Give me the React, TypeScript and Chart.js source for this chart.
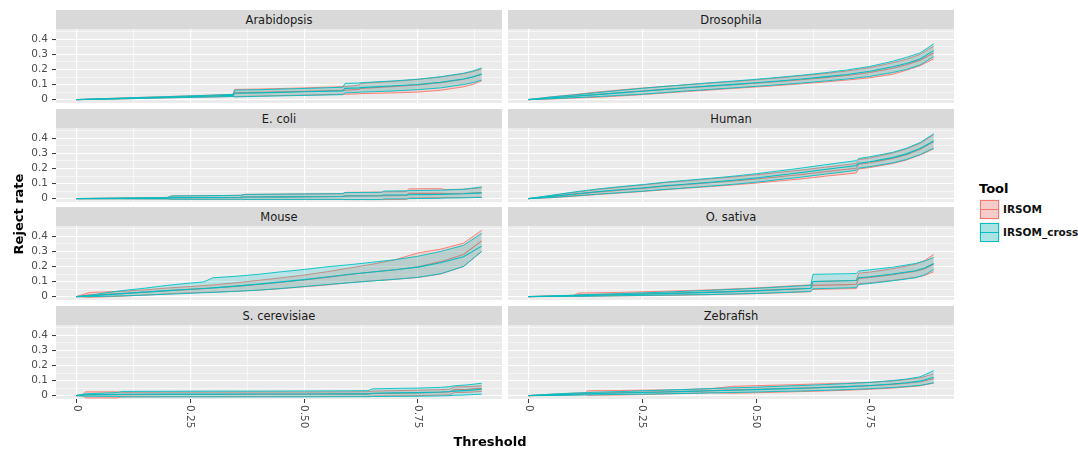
import React, { useEffect, useRef } from "react";
import { Chart, registerables } from "chart.js";

Chart.register(...registerables);

const FONT = '"DejaVu Sans", sans-serif';
const RED = "#F8766D";
const CYAN = "#00BFC4";
const RED_FILL = "rgba(248,118,109,0.22)";
const CYAN_FILL = "rgba(0,191,196,0.22)";

const TOOLS = ["IRSOM", "IRSOM_cross"];
const X_TICKS = [0, 0.25, 0.5, 0.75];
const X_TICK_LABELS = ["0", "0.25", "0.50", "0.75"];
const X_MINOR = [0.125, 0.375, 0.625, 0.875];
const Y_TICKS = [0, 0.1, 0.2, 0.3, 0.4];
const Y_TICK_LABELS = ["0", "0.1", "0.2", "0.3", "0.4"];
const Y_MINOR = [0.05, 0.15, 0.25, 0.35, 0.45];
const X_RANGE = [-0.0445, 0.9345];
const Y_RANGE = [-0.0223, 0.4685];

// ---------- Arabidopsis ----------
const arabX = [0, 0.1, 0.2, 0.3, 0.344, 0.348, 0.4, 0.5, 0.585, 0.59, 0.62, 0.625, 0.7, 0.75, 0.8, 0.85, 0.87, 0.89];
const arabRedMid = [0, 0.008, 0.016, 0.024, 0.028, 0.045, 0.048, 0.055, 0.062, 0.062, 0.068, 0.075, 0.088, 0.098, 0.113, 0.135, 0.15, 0.168];
const arabRedLo = [0, 0.005, 0.012, 0.018, 0.021, 0.02, 0.024, 0.03, 0.036, 0.036, 0.038, 0.04, 0.045, 0.05, 0.062, 0.085, 0.1, 0.125];
const arabRedHi = [0, 0.011, 0.02, 0.03, 0.035, 0.068, 0.07, 0.078, 0.086, 0.086, 0.095, 0.108, 0.122, 0.135, 0.15, 0.172, 0.185, 0.205];
const arabCyanMid = [0, 0.008, 0.016, 0.024, 0.028, 0.042, 0.045, 0.052, 0.058, 0.075, 0.078, 0.08, 0.092, 0.1, 0.115, 0.137, 0.15, 0.17];
const arabCyanLo = [0, 0.005, 0.012, 0.018, 0.021, 0.018, 0.022, 0.028, 0.033, 0.045, 0.048, 0.05, 0.058, 0.066, 0.078, 0.1, 0.112, 0.13];
const arabCyanHi = [0, 0.011, 0.02, 0.03, 0.035, 0.063, 0.066, 0.074, 0.082, 0.108, 0.11, 0.112, 0.125, 0.135, 0.152, 0.175, 0.19, 0.21];

// ---------- Drosophila ----------
const drosX = [0, 0.05, 0.1, 0.15, 0.2, 0.25, 0.3, 0.35, 0.4, 0.45, 0.5, 0.55, 0.6, 0.65, 0.7, 0.75, 0.8, 0.83, 0.86, 0.89];
const drosRedMid = [0, 0.011, 0.022, 0.034, 0.046, 0.057, 0.068, 0.079, 0.089, 0.099, 0.109, 0.12, 0.132, 0.146, 0.16, 0.18, 0.208, 0.232, 0.262, 0.31];
const drosRedLo = [0, 0.004, 0.01, 0.016, 0.024, 0.033, 0.044, 0.054, 0.064, 0.074, 0.084, 0.094, 0.105, 0.117, 0.13, 0.145, 0.168, 0.195, 0.225, 0.27];
const drosRedHi = [0, 0.018, 0.033, 0.05, 0.064, 0.077, 0.088, 0.099, 0.11, 0.12, 0.131, 0.144, 0.158, 0.173, 0.19, 0.212, 0.245, 0.268, 0.3, 0.355];
const drosCyanMid = [0, 0.012, 0.022, 0.033, 0.045, 0.056, 0.068, 0.08, 0.091, 0.101, 0.112, 0.124, 0.137, 0.151, 0.167, 0.188, 0.218, 0.24, 0.27, 0.325];
const drosCyanLo = [0, 0.006, 0.013, 0.02, 0.028, 0.036, 0.047, 0.058, 0.068, 0.078, 0.088, 0.099, 0.11, 0.123, 0.137, 0.154, 0.18, 0.2, 0.23, 0.285];
const drosCyanHi = [0, 0.018, 0.031, 0.046, 0.061, 0.075, 0.088, 0.1, 0.112, 0.123, 0.135, 0.148, 0.162, 0.178, 0.197, 0.22, 0.255, 0.28, 0.31, 0.37];

// ---------- E. coli ----------
const ecoliX = [0, 0.1, 0.2, 0.21, 0.3, 0.36, 0.37, 0.45, 0.585, 0.59, 0.67, 0.675, 0.725, 0.73, 0.8, 0.81, 0.85, 0.89];
const ecoliRedMid = [0, 0.002, 0.003, 0.007, 0.008, 0.009, 0.011, 0.012, 0.014, 0.018, 0.019, 0.02, 0.021, 0.035, 0.036, 0.033, 0.034, 0.04];
const ecoliRedLo = [0, -0.001, -0.002, -0.004, -0.004, -0.004, -0.005, -0.005, -0.005, -0.006, -0.006, -0.006, -0.005, 0.005, 0.006, 0.006, 0.007, 0.01];
const ecoliRedHi = [0, 0.004, 0.008, 0.018, 0.02, 0.022, 0.028, 0.03, 0.033, 0.042, 0.044, 0.045, 0.047, 0.065, 0.066, 0.06, 0.062, 0.072];
const ecoliCyanMid = [0, 0.002, 0.003, 0.007, 0.008, 0.009, 0.011, 0.012, 0.014, 0.017, 0.019, 0.024, 0.025, 0.026, 0.028, 0.03, 0.032, 0.038];
const ecoliCyanLo = [0, -0.001, -0.002, -0.004, -0.004, -0.004, -0.005, -0.005, -0.005, -0.006, -0.006, -0.002, -0.001, 0, 0.002, 0.004, 0.005, 0.008];
const ecoliCyanHi = [0, 0.004, 0.008, 0.018, 0.02, 0.022, 0.028, 0.03, 0.033, 0.04, 0.042, 0.05, 0.052, 0.053, 0.056, 0.058, 0.062, 0.078];

// ---------- Human ----------
const humanX = [0, 0.05, 0.1, 0.15, 0.2, 0.25, 0.3, 0.35, 0.4, 0.45, 0.5, 0.55, 0.6, 0.65, 0.7, 0.72, 0.725, 0.75, 0.8, 0.83, 0.86, 0.89];
const humanRedMid = [0, 0.013, 0.028, 0.043, 0.056, 0.068, 0.082, 0.094, 0.105, 0.117, 0.13, 0.145, 0.16, 0.178, 0.195, 0.202, 0.228, 0.238, 0.267, 0.292, 0.327, 0.378];
const humanRedLo = [0, 0.006, 0.016, 0.027, 0.037, 0.047, 0.059, 0.07, 0.08, 0.091, 0.103, 0.117, 0.131, 0.148, 0.164, 0.17, 0.197, 0.206, 0.233, 0.256, 0.289, 0.33];
const humanRedHi = [0, 0.02, 0.041, 0.06, 0.076, 0.09, 0.106, 0.119, 0.131, 0.144, 0.158, 0.174, 0.19, 0.208, 0.226, 0.234, 0.258, 0.27, 0.302, 0.33, 0.366, 0.425];
const humanCyanMid = [0, 0.015, 0.031, 0.046, 0.059, 0.071, 0.085, 0.097, 0.109, 0.122, 0.137, 0.155, 0.173, 0.193, 0.212, 0.22, 0.234, 0.245, 0.272, 0.297, 0.332, 0.382];
const humanCyanLo = [0, 0.007, 0.018, 0.029, 0.039, 0.049, 0.061, 0.072, 0.083, 0.095, 0.109, 0.126, 0.143, 0.162, 0.18, 0.188, 0.202, 0.212, 0.237, 0.26, 0.292, 0.335];
const humanCyanHi = [0, 0.022, 0.044, 0.063, 0.079, 0.093, 0.109, 0.122, 0.135, 0.149, 0.165, 0.184, 0.203, 0.224, 0.244, 0.252, 0.266, 0.278, 0.307, 0.334, 0.372, 0.43];

// ---------- Mouse ----------
const mouseX = [0, 0.03, 0.1, 0.15, 0.2, 0.25, 0.28, 0.3, 0.35, 0.4, 0.45, 0.5, 0.55, 0.6, 0.65, 0.7, 0.75, 0.8, 0.85, 0.89];
const mouseRedMid = [0, 0.012, 0.02, 0.03, 0.04, 0.048, 0.053, 0.057, 0.068, 0.08, 0.095, 0.11, 0.128, 0.147, 0.163, 0.178, 0.198, 0.232, 0.28, 0.37];
const mouseRedLo = [0, -0.004, 0.003, 0.01, 0.018, 0.025, 0.028, 0.03, 0.036, 0.043, 0.053, 0.065, 0.077, 0.093, 0.105, 0.115, 0.127, 0.15, 0.2, 0.3];
const mouseRedHi = [0, 0.028, 0.035, 0.045, 0.057, 0.067, 0.073, 0.078, 0.092, 0.108, 0.125, 0.143, 0.165, 0.19, 0.215, 0.245, 0.29, 0.315, 0.355, 0.44];
const mouseCyanMid = [0, 0.005, 0.02, 0.03, 0.04, 0.049, 0.054, 0.058, 0.07, 0.083, 0.098, 0.113, 0.13, 0.148, 0.163, 0.178, 0.196, 0.225, 0.265, 0.335];
const mouseCyanLo = [0, 0, 0.005, 0.01, 0.016, 0.022, 0.026, 0.028, 0.035, 0.043, 0.054, 0.067, 0.08, 0.092, 0.104, 0.115, 0.128, 0.152, 0.2, 0.3];
const mouseCyanHi = [0, 0.01, 0.04, 0.056, 0.075, 0.09, 0.098, 0.125, 0.135, 0.148, 0.165, 0.18, 0.198, 0.212, 0.228, 0.245, 0.268, 0.3, 0.34, 0.42];

// ---------- O. sativa ----------
const sativaX = [0, 0.1, 0.11, 0.2, 0.3, 0.4, 0.5, 0.6, 0.62, 0.625, 0.7, 0.72, 0.725, 0.75, 0.8, 0.85, 0.87, 0.89];
const sativaRedMid = [0, 0.006, 0.012, 0.016, 0.022, 0.03, 0.04, 0.053, 0.056, 0.075, 0.08, 0.082, 0.12, 0.128, 0.145, 0.168, 0.185, 0.215];
const sativaRedLo = [0, 0.004, 0.002, 0.005, 0.008, 0.013, 0.02, 0.03, 0.033, 0.048, 0.052, 0.053, 0.085, 0.092, 0.108, 0.128, 0.14, 0.165];
const sativaRedHi = [0, 0.008, 0.024, 0.028, 0.036, 0.045, 0.058, 0.075, 0.078, 0.1, 0.106, 0.108, 0.155, 0.163, 0.185, 0.215, 0.24, 0.28];
const sativaCyanMid = [0, 0.006, 0.007, 0.013, 0.02, 0.028, 0.038, 0.052, 0.055, 0.1, 0.105, 0.107, 0.125, 0.132, 0.15, 0.172, 0.19, 0.22];
const sativaCyanLo = [0, 0.002, 0.002, 0.006, 0.01, 0.014, 0.021, 0.032, 0.035, 0.052, 0.058, 0.06, 0.08, 0.087, 0.105, 0.125, 0.145, 0.18];
const sativaCyanHi = [0, 0.01, 0.012, 0.02, 0.03, 0.042, 0.055, 0.072, 0.075, 0.148, 0.152, 0.153, 0.17, 0.178, 0.195, 0.22, 0.235, 0.26];

// ---------- S. cerevisiae ----------
const cereX = [0, 0.015, 0.02, 0.09, 0.1, 0.2, 0.3, 0.4, 0.5, 0.6, 0.64, 0.65, 0.7, 0.75, 0.8, 0.82, 0.83, 0.86, 0.89];
const cereRedMid = [0, 0.004, 0.006, 0.006, 0.007, 0.008, 0.008, 0.009, 0.009, 0.01, 0.01, 0.014, 0.016, 0.018, 0.022, 0.024, 0.04, 0.042, 0.048];
const cereRedLo = [0, -0.003, -0.015, -0.015, -0.008, -0.007, -0.007, -0.006, -0.006, -0.005, -0.005, -0.002, -0.001, 0, 0.004, 0.005, 0.02, 0.022, 0.028];
const cereRedHi = [0, 0.008, 0.025, 0.025, 0.022, 0.023, 0.023, 0.024, 0.024, 0.025, 0.026, 0.03, 0.033, 0.036, 0.04, 0.043, 0.058, 0.06, 0.065];
const cereCyanMid = [0, 0.004, 0.005, 0.008, 0.009, 0.01, 0.01, 0.011, 0.011, 0.012, 0.012, 0.016, 0.018, 0.02, 0.024, 0.027, 0.03, 0.035, 0.042];
const cereCyanLo = [0, -0.003, -0.004, -0.005, -0.008, -0.008, -0.008, -0.008, -0.008, -0.007, -0.007, -0.006, -0.005, -0.004, -0.002, 0, 0.002, 0.005, 0.01];
const cereCyanHi = [0, 0.01, 0.012, 0.02, 0.028, 0.029, 0.03, 0.03, 0.031, 0.032, 0.033, 0.045, 0.048, 0.05, 0.055, 0.06, 0.065, 0.072, 0.082];

// ---------- Zebrafish ----------
const zebraX = [0, 0.05, 0.1, 0.125, 0.13, 0.2, 0.25, 0.3, 0.35, 0.4, 0.45, 0.5, 0.55, 0.6, 0.65, 0.7, 0.75, 0.8, 0.83, 0.86, 0.89];
const zebraRedMid = [0, 0.005, 0.01, 0.012, 0.016, 0.019, 0.022, 0.025, 0.028, 0.032, 0.038, 0.042, 0.046, 0.05, 0.055, 0.06, 0.066, 0.075, 0.082, 0.092, 0.112];
const zebraRedLo = [0, 0.001, 0.004, 0.006, 0.002, 0.004, 0.007, 0.011, 0.015, 0.019, 0.016, 0.019, 0.023, 0.027, 0.031, 0.036, 0.042, 0.05, 0.057, 0.065, 0.083];
const zebraRedHi = [0, 0.009, 0.016, 0.018, 0.032, 0.034, 0.036, 0.038, 0.041, 0.046, 0.062, 0.066, 0.07, 0.074, 0.079, 0.083, 0.088, 0.098, 0.106, 0.118, 0.145];
const zebraCyanMid = [0, 0.005, 0.01, 0.012, 0.013, 0.017, 0.021, 0.024, 0.028, 0.032, 0.036, 0.04, 0.045, 0.049, 0.054, 0.06, 0.067, 0.077, 0.085, 0.096, 0.122];
const zebraCyanLo = [0, 0.001, 0.003, 0.005, 0.005, 0.008, 0.01, 0.012, 0.015, 0.018, 0.021, 0.024, 0.028, 0.031, 0.035, 0.04, 0.046, 0.054, 0.06, 0.068, 0.085];
const zebraCyanHi = [0, 0.01, 0.017, 0.02, 0.021, 0.027, 0.032, 0.037, 0.042, 0.047, 0.052, 0.056, 0.062, 0.067, 0.073, 0.08, 0.088, 0.1, 0.11, 0.125, 0.165];

const PANELS = [
  { name: "Arabidopsis", x: arabX, red: [arabRedLo, arabRedMid, arabRedHi], cyan: [arabCyanLo, arabCyanMid, arabCyanHi] },
  { name: "Drosophila", x: drosX, red: [drosRedLo, drosRedMid, drosRedHi], cyan: [drosCyanLo, drosCyanMid, drosCyanHi] },
  { name: "E. coli", x: ecoliX, red: [ecoliRedLo, ecoliRedMid, ecoliRedHi], cyan: [ecoliCyanLo, ecoliCyanMid, ecoliCyanHi] },
  { name: "Human", x: humanX, red: [humanRedLo, humanRedMid, humanRedHi], cyan: [humanCyanLo, humanCyanMid, humanCyanHi] },
  { name: "Mouse", x: mouseX, red: [mouseRedLo, mouseRedMid, mouseRedHi], cyan: [mouseCyanLo, mouseCyanMid, mouseCyanHi] },
  { name: "O. sativa", x: sativaX, red: [sativaRedLo, sativaRedMid, sativaRedHi], cyan: [sativaCyanLo, sativaCyanMid, sativaCyanHi] },
  { name: "S. cerevisiae", x: cereX, red: [cereRedLo, cereRedMid, cereRedHi], cyan: [cereCyanLo, cereCyanMid, cereCyanHi] },
  { name: "Zebrafish", x: zebraX, red: [zebraRedLo, zebraRedMid, zebraRedHi], cyan: [zebraCyanLo, zebraCyanMid, zebraCyanHi] },
];

// layout
const ROW_TOP = [29, 128, 226, 325];
const STRIP_H = 19;
const PLOT_H = 74;
const Y_AXIS_W = 56;
const PLOT_W = 446;
const COL_PLOT_LEFT = [56, 508];
const X_AXIS_H = 40;

const near = (v: number, arr: number[]) => arr.some((a) => Math.abs(a - v) < 1e-6);

function pts(xs: number[], ys: number[]) {
  return xs.map((x, i) => ({ x, y: ys[i] }));
}

function Panel({ panel, col, row }: { panel: any; col: number; row: number }) {
  const ref = useRef<HTMLCanvasElement | null>(null);
  const isLeft = col === 0;
  const isBottom = row === 3;
  const w = (isLeft ? Y_AXIS_W : 0) + PLOT_W;
  const h = PLOT_H + (isBottom ? X_AXIS_H : 0);
  const left = isLeft ? 0 : COL_PLOT_LEFT[1];
  const top = ROW_TOP[row];

  useEffect(() => {
    if (!ref.current) return;
    const datasets: any[] = [];
    const groups = [
      { arr: panel.cyan, color: CYAN, fill: CYAN_FILL, label: TOOLS[1] },
      { arr: panel.red, color: RED, fill: RED_FILL, label: TOOLS[0] },
    ];
    groups.forEach((g) => {
      datasets.push({ label: g.label + " lo", data: pts(panel.x, g.arr[0]), borderColor: g.color, borderWidth: 0.9, pointRadius: 0, fill: false, tension: 0 });
      datasets.push({ label: g.label + " hi", data: pts(panel.x, g.arr[2]), borderColor: g.color, borderWidth: 0.9, pointRadius: 0, fill: "-1", backgroundColor: g.fill, tension: 0 });
      datasets.push({ label: g.label, data: pts(panel.x, g.arr[1]), borderColor: g.color, borderWidth: 1.1, pointRadius: 0, fill: false, tension: 0 });
    });

    const bgPlugin = {
      id: "panelBg",
      beforeDraw(chart: any) {
        const { ctx, chartArea } = chart;
        ctx.save();
        ctx.fillStyle = "#EBEBEB";
        ctx.fillRect(chartArea.left, chartArea.top, chartArea.right - chartArea.left, chartArea.bottom - chartArea.top);
        ctx.restore();
      },
    };
    const xLabelPlugin = {
      id: "xLabels",
      afterDraw(chart: any) {
        if (!isBottom) return;
        const { ctx, chartArea } = chart;
        const sx = chart.scales.x;
        ctx.save();
        ctx.fillStyle = "#4D4D4D";
        ctx.font = `10.5px ${FONT}`;
        ctx.textAlign = "left";
        ctx.textBaseline = "middle";
        sx.ticks.forEach((t: any) => {
          const idx = X_TICKS.findIndex((v) => Math.abs(v - t.value) < 1e-6);
          if (idx < 0) return;
          const px = sx.getPixelForValue(t.value);
          ctx.save();
          ctx.translate(px, chartArea.bottom + 6);
          ctx.rotate(Math.PI / 2);
          ctx.fillText(X_TICK_LABELS[idx], 0, 0);
          ctx.restore();
        });
        ctx.restore();
      },
    };

    const chart = new Chart(ref.current, {
      type: "line",
      data: { datasets },
      options: {
        animation: false,
        responsive: false,
        maintainAspectRatio: false,
        events: [],
        layout: { padding: 0 },
        plugins: { legend: { display: false }, tooltip: { enabled: false }, title: { display: false } },
        scales: {
          x: {
            type: "linear",
            min: X_RANGE[0],
            max: X_RANGE[1],
            afterBuildTicks: (s: any) => {
              s.ticks = [...X_TICKS, ...X_MINOR].sort((a, b) => a - b).map((v) => ({ value: v }));
            },
            afterFit: (s: any) => {
              s.height = isBottom ? X_AXIS_H : 0;
              s.paddingLeft = 0;
              s.paddingRight = 0;
              s.paddingTop = 0;
              s.paddingBottom = 0;
            },
            border: { display: false },
            ticks: { display: false },
            grid: {
              color: "#FFFFFF",
              lineWidth: (c: any) => (c.tick && near(c.tick.value, X_TICKS) ? 1.1 : 0.55),
              drawTicks: isBottom,
              tickLength: 4,
              tickWidth: 1,
              tickColor: (c: any) => (c.tick && near(c.tick.value, X_TICKS) ? "#333333" : "rgba(0,0,0,0)"),
            },
          },
          y: {
            type: "linear",
            min: Y_RANGE[0],
            max: Y_RANGE[1],
            afterBuildTicks: (s: any) => {
              s.ticks = [...Y_TICKS, ...Y_MINOR].sort((a, b) => a - b).map((v) => ({ value: v }));
            },
            afterFit: (s: any) => {
              s.width = isLeft ? Y_AXIS_W : 0;
              s.paddingTop = 0;
              s.paddingBottom = 0;
              s.paddingLeft = 0;
              s.paddingRight = 0;
            },
            border: { display: false },
            ticks: {
              display: isLeft,
              autoSkip: false,
              padding: 4,
              color: "#4D4D4D",
              font: { family: FONT, size: 10.5 },
              callback: (v: any) => {
                const i = Y_TICKS.findIndex((t) => Math.abs(t - v) < 1e-6);
                return i >= 0 ? Y_TICK_LABELS[i] : "";
              },
            },
            grid: {
              color: "#FFFFFF",
              lineWidth: (c: any) => (c.tick && near(c.tick.value, Y_TICKS) ? 1.1 : 0.55),
              drawTicks: isLeft,
              tickLength: 4,
              tickWidth: 1,
              tickColor: (c: any) => (c.tick && near(c.tick.value, Y_TICKS) ? "#333333" : "rgba(0,0,0,0)"),
            },
          },
        },
      } as any,
      plugins: [bgPlugin, xLabelPlugin],
    });
    return () => chart.destroy();
  }, [panel, col, row]);

  return (
    <canvas
      ref={ref}
      width={w}
      height={h}
      style={{ position: "absolute", left, top, width: w, height: h }}
    />
  );
}

function Text({ cx, cy, children, style }: any) {
  return (
    <div
      style={{
        position: "absolute",
        left: cx - 200,
        top: cy - 20,
        width: 400,
        height: 40,
        display: "flex",
        alignItems: "center",
        justifyContent: "center",
        whiteSpace: "nowrap",
        fontFamily: FONT,
        ...style,
      }}
    >
      {children}
    </div>
  );
}

function LegendKey({ top, color, fill }: any) {
  return (
    <div style={{ position: "absolute", left: 979, top, width: 21, height: 21, background: "#F2F2F2" }}>
      <div style={{ position: "absolute", left: 1, top: 1, width: 17, height: 17, background: fill, border: `1px solid ${color}` }} />
      <div style={{ position: "absolute", left: 1, top: 9.5, width: 19, height: 1.5, background: color }} />
    </div>
  );
}

export default function App() {
  return (
    <div style={{ position: "absolute", left: 0, top: 0, width: 1078, height: 452, background: "#FFFFFF", overflow: "hidden" }}>
      {PANELS.map((p, i) => {
        const col = i % 2;
        const row = Math.floor(i / 2);
        return (
          <React.Fragment key={p.name}>
            <div
              style={{
                position: "absolute",
                left: COL_PLOT_LEFT[col],
                top: ROW_TOP[row] - STRIP_H,
                width: PLOT_W,
                height: STRIP_H,
                background: "#D9D9D9",
                color: "#1A1A1A",
                fontFamily: FONT,
                fontSize: 11.5,
                display: "flex",
                alignItems: "center",
                justifyContent: "center",
              }}
            >
              {p.name}
            </div>
            <Panel panel={p} col={col} row={row} />
          </React.Fragment>
        );
      })}
      <Text cx={18} cy={214} style={{ transform: "rotate(-90deg)", fontWeight: "bold", fontSize: 13, color: "#000" }}>
        Reject rate
      </Text>
      <Text cx={490} cy={441} style={{ fontWeight: "bold", fontSize: 13, color: "#000" }}>
        Threshold
      </Text>
      <div style={{ position: "absolute", left: 979, top: 181, fontFamily: FONT, fontWeight: "bold", fontSize: 13, color: "#000", lineHeight: "16px" }}>
        Tool
      </div>
      <LegendKey top={199} color={RED} fill="rgba(248,118,109,0.3)" />
      <LegendKey top={222} color={CYAN} fill="rgba(0,191,196,0.3)" />
      <div style={{ position: "absolute", left: 1003, top: 202, fontFamily: FONT, fontWeight: "bold", fontSize: 10.5, color: "#111", lineHeight: "14px", whiteSpace: "nowrap" }}>
        {TOOLS[0]}
      </div>
      <div style={{ position: "absolute", left: 1003, top: 225, fontFamily: FONT, fontWeight: "bold", fontSize: 10.5, color: "#111", lineHeight: "14px", whiteSpace: "nowrap" }}>
        {TOOLS[1]}
      </div>
    </div>
  );
}
